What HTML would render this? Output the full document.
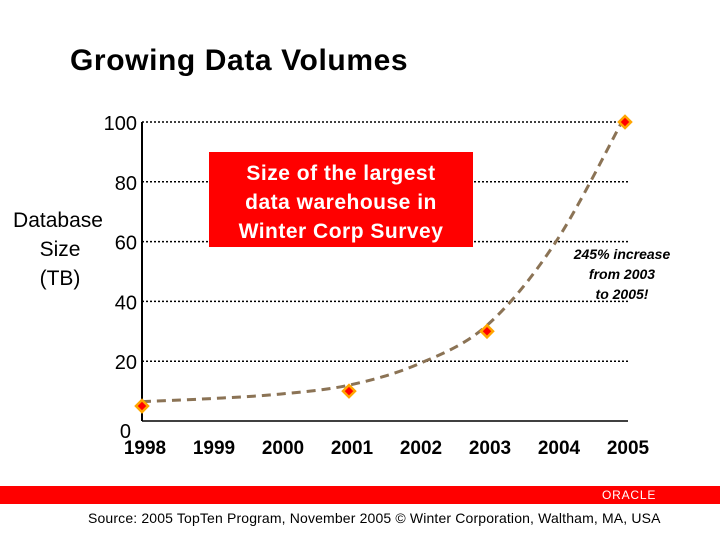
<!DOCTYPE html>
<html><head><meta charset="utf-8"><style>
body{margin:0;width:720px;height:540px;background:#fff;overflow:hidden;font-family:"Liberation Sans",Arial,sans-serif;position:relative}
</style></head><body>
<div style="position:absolute;left:70px;top:44px;font-size:30px;font-weight:bold;color:#000;letter-spacing:0.6px">Growing Data Volumes</div>
<svg id="chart" width="720" height="480" style="position:absolute;left:0;top:0" font-family="Liberation Sans, Arial, sans-serif"></svg>
<div style="position:absolute;left:0;top:486px;width:720px;height:18px;background:#f00"></div>
<div style="position:absolute;left:602px;top:488px;font-size:12px;color:#fff;letter-spacing:0.8px">ORACLE</div>
<div style="position:absolute;left:88px;top:510px;font-size:14px;color:#000;letter-spacing:0.15px">Source: 2005 TopTen Program, November 2005 © Winter Corporation, Waltham, MA, USA</div>
<script>
const years=["1998","1999","2000","2001","2002","2003","2004","2005"];
const pointYears=[0,3,5,7];
const pointValues=[5,10,30,100];
const trendValues=[6.5,7.5,9,12,19,32,60,102];
const yTicks=[0,20,40,60,80,100];
const svg=document.getElementById('chart');
const NS='http://www.w3.org/2000/svg';
const x0=142,xStep=69,yBase=421,yScale=2.99;
const xs=i=>x0+i*xStep, ys=v=>yBase-v*yScale;
function mk(t,a){const e=document.createElementNS(NS,t);for(const k in a)e.setAttribute(k,a[k]);svg.appendChild(e);return e;}
yTicks.forEach(v=>{
  if(v>0){const g=mk('line',{x1:x0,x2:628,y1:ys(v),y2:ys(v),stroke:'#000','stroke-width':1.5,'stroke-dasharray':'2,2'});
  
  }
  const t=mk('text',{x:v==0?131:x0-5,y:ys(v)+(v==0?17:8),'text-anchor':'end','font-size':20});
  t.textContent=v;
  
  
});
const ax=mk('line',{x1:x0,x2:x0,y1:ys(100),y2:yBase,stroke:'#000','stroke-width':2});


const bx=mk('line',{x1:x0,x2:628,y1:yBase,y2:yBase,stroke:'#000','stroke-width':1.5});


years.forEach((y,i)=>{
  const t=mk('text',{x:xs(i)+3,y:454,'text-anchor':'middle','font-size':19,'font-weight':'bold'});
  t.textContent=y;
  
  
});
[["Database",58,227],["Size",60,256],["(TB)",60,285]].forEach(p=>{
  const t=mk('text',{x:p[1],y:p[2],'text-anchor':'middle','font-size':21});
  t.textContent=p[0];
  
  
});
const P=trendValues.map((v,i)=>[xs(i),ys(v)]);
let d='M'+P[0][0]+','+P[0][1];
for(let i=0;i<P.length-1;i++){const p0=P[Math.max(0,i-1)],p1=P[i],p2=P[i+1],p3=P[Math.min(P.length-1,i+2)];
d+=' C'+(p1[0]+(p2[0]-p0[0])/6)+','+(p1[1]+(p2[1]-p0[1])/6)+' '+(p2[0]-(p3[0]-p1[0])/6)+','+(p2[1]-(p3[1]-p1[1])/6)+' '+p2[0]+','+p2[1];}
const tr=mk('path',{d:d,fill:'none',stroke:'#8b7355','stroke-width':3,'stroke-dasharray':'9,6'});


pointYears.forEach((yi,k)=>{
  const cx=xs(yi),cy=ys(pointValues[k]);
  const m=mk('polygon',{points:`${cx},${cy-6} ${cx+6},${cy} ${cx},${cy+6} ${cx-6},${cy}`,fill:'#f00',stroke:'#ffa500','stroke-width':2.5});
  
  
});
const box=mk('rect',{x:209,y:152,width:264,height:95,fill:'#f00'});


["Size of the largest","data warehouse in","Winter Corp Survey"].forEach((s,i)=>{
  const t=mk('text',{x:341,y:180+i*29,'text-anchor':'middle','font-size':21,'font-weight':'bold',fill:'#fff','letter-spacing':'0.5'});
  t.textContent=s;
  
  
});
["245% increase","from 2003","to 2005!"].forEach((s,i)=>{
  const t=mk('text',{x:622,y:259+i*20,'text-anchor':'middle','font-size':14,'font-weight':'bold','font-style':'italic',fill:'#000'});
  t.textContent=s;
  
  
});
</script>
</body></html>
